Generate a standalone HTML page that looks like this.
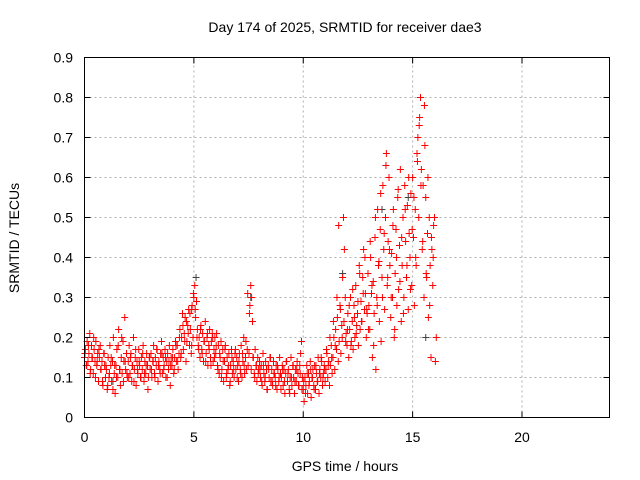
<!DOCTYPE html>
<html><head><meta charset="utf-8"><style>
body{margin:0;background:#fff}
svg{display:block;font-family:"Liberation Sans",sans-serif}
</style></head><body>
<svg id="chart" width="640" height="480" xmlns="http://www.w3.org/2000/svg">
<text x="345" y="32" font-size="14" text-anchor="middle">Day 174 of 2025, SRMTID for receiver dae3</text>
<text x="345" y="471" font-size="14" text-anchor="middle">GPS time / hours</text>
<text x="19" y="238" font-size="14" text-anchor="middle" transform="rotate(-90 19 238)">SRMTID / TECUs</text>
<g id="grid"></g>
<g id="ticks"></g>
<g id="marks-black"></g>
<g id="marks"></g>
<rect x="84.5" y="57.5" width="525" height="360" fill="none" stroke="#000" stroke-width="1"/>
</svg>
<script>
const xTicks=[0,5,10,15,20];
const yTicks=[0,0.1,0.2,0.3,0.4,0.5,0.6,0.7,0.8,0.9];
const yTickLabels=["0","0.1","0.2","0.3","0.4","0.5","0.6","0.7","0.8","0.9"];
const startHour=0, stepHour=0.04;
const srmtid=[
0.15,0.17,0.13,0.19,0.14,0.16,0.21,0.12,0.18,0.15,0.11,0.17,0.14,0.19,0.13,0.16,0.09,0.15,0.18,0.12,0.14,0.08,0.16,0.13,0.1,
0.12,0.07,0.15,0.1,0.18,0.13,0.09,0.14,0.2,0.11,0.06,0.13,0.17,0.1,0.22,0.12,0.08,0.15,0.11,0.19,0.14,0.25,0.12,0.16,0.1,
0.14,0.18,0.11,0.16,0.09,0.13,0.2,0.12,0.15,0.08,0.14,0.11,0.17,0.13,0.1,0.15,0.12,0.18,0.09,0.14,0.11,0.16,0.13,0.1,0.15,
0.12,0.16,0.1,0.14,0.18,0.11,0.15,0.13,0.17,0.09,0.14,0.12,0.16,0.19,0.11,0.15,0.13,0.17,0.1,0.14,0.16,0.12,0.18,0.08,0.15,
0.13,0.17,0.11,0.15,0.19,0.14,0.18,0.12,0.16,0.22,0.15,0.2,0.26,0.17,0.21,0.25,0.14,0.19,0.23,0.27,0.18,0.22,0.16,0.28,0.2,
0.3,0.33,0.25,0.29,0.22,0.18,0.2,0.15,0.23,0.17,0.21,0.14,0.19,0.24,0.16,0.2,0.13,0.18,0.22,0.15,0.19,0.21,0.14,0.17,0.2,
0.16,0.21,0.13,0.18,0.11,0.15,0.19,0.12,0.17,0.09,0.14,0.18,0.1,0.15,0.12,0.16,0.08,0.13,0.17,0.11,0.14,0.1,0.16,0.12,0.15,
0.13,0.09,0.16,0.12,0.18,0.1,0.14,0.2,0.11,0.15,0.12,0.17,0.13,0.16,0.28,0.33,0.3,0.24,0.15,0.11,0.17,0.13,0.09,0.15,0.12,
0.14,0.1,0.13,0.08,0.16,0.11,0.09,0.14,0.12,0.07,0.13,0.1,0.15,0.09,0.12,0.08,0.14,0.11,0.1,0.13,0.07,0.12,0.09,0.15,0.11,
0.1,0.13,0.08,0.12,0.06,0.11,0.14,0.09,0.12,0.07,0.1,0.15,0.08,0.13,0.1,0.06,0.12,0.09,0.14,0.11,0.08,0.13,0.16,0.19,0.1,
0.07,0.04,0.1,0.08,0.13,0.06,0.11,0.09,0.14,0.05,0.1,0.12,0.08,0.13,0.07,0.11,0.09,0.15,0.06,0.12,0.1,0.14,0.08,0.11,0.13,
0.09,0.12,0.16,0.1,0.14,0.08,0.13,0.18,0.11,0.15,0.2,0.12,0.22,0.17,0.25,0.14,0.19,0.28,0.16,0.23,0.35,0.5,0.42,0.3,0.21,
0.18,0.26,0.15,0.22,0.3,0.19,0.24,0.17,0.28,0.2,0.33,0.23,0.26,0.18,0.38,0.22,0.29,0.24,0.35,0.42,0.27,0.31,0.2,0.26,0.36,
0.28,0.22,0.4,0.31,0.15,0.34,0.26,0.45,0.12,0.3,0.52,0.38,0.24,0.47,0.19,0.35,0.58,0.42,0.27,0.5,0.66,0.33,0.44,0.6,0.38,
0.25,0.41,0.3,0.52,0.2,0.36,0.47,0.28,0.55,0.32,0.43,0.62,0.24,0.38,0.5,0.3,0.58,0.44,0.35,0.53,0.27,0.46,0.4,0.56,0.33,
0.6,0.45,0.28,0.52,0.38,0.66,0.7,0.5,0.75,0.8,0.62,0.42,0.58,0.3,0.68,0.55,0.35,0.46,0.25,0.5,0.38,0.15,0.42,0.33,0.48,
0.5,0.14,0.2
];
const start2=0.02, step2=0.08;
const srmtid2=[
0.16,0.13,0.18,0.11,0.15,0.2,0.1,0.14,0.17,0.12,0.09,0.16,0.13,0.08,0.11,0.15,0.07,0.13,0.1,0.18,0.12,0.2,0.09,0.14,0.11,
0.1,0.15,0.13,0.09,0.17,0.12,0.14,0.1,0.16,0.11,0.13,0.07,0.15,0.12,0.14,0.1,0.17,0.13,0.11,0.16,0.12,0.15,0.1,0.14,0.13,
0.15,0.12,0.18,0.14,0.2,0.16,0.23,0.19,0.24,0.21,0.26,0.18,0.31,0.27,0.2,0.17,0.22,0.16,0.19,0.14,0.21,0.17,0.13,0.2,0.15,
0.18,0.12,0.16,0.1,0.14,0.17,0.11,0.13,0.09,0.15,0.12,0.17,0.1,0.14,0.11,0.16,0.13,0.19,0.31,0.26,0.12,0.15,0.1,0.13,0.11,
0.12,0.09,0.13,0.1,0.07,0.12,0.15,0.09,0.11,0.08,0.13,0.1,0.07,0.12,0.09,0.14,0.11,0.06,0.1,0.13,0.09,0.12,0.08,0.11,0.07,
0.09,0.06,0.11,0.08,0.12,0.1,0.07,0.13,0.09,0.11,0.15,0.1,0.12,0.17,0.13,0.2,0.15,0.24,0.18,0.3,0.48,0.27,0.2,0.24,0.19,
0.22,0.28,0.18,0.32,0.25,0.21,0.29,0.36,0.24,0.31,0.4,0.27,0.22,0.44,0.33,0.18,0.5,0.28,0.39,0.56,0.3,0.46,0.63,0.35,0.42,
0.3,0.48,0.22,0.4,0.57,0.34,0.45,0.26,0.52,0.38,0.6,0.32,0.47,0.55,0.4,0.64,0.73,0.58,0.44,0.78,0.36,0.6,0.28,0.45,0.4
];
const blackTimes=[1.3,4.9,5.1,7.6,11.8,13.6,14.8,15.6];
const blackValues=[0.09,0.27,0.35,0.3,0.36,0.52,0.55,0.2];
const X0=84.5,X1=609.5,Y0=417.5,Y1=57.5;
const xMax=24,yMax=0.9;
const sx=v=>X0+v/xMax*(X1-X0);
const sy=v=>Y0-v/yMax*(Y0-Y1);
const NS="http://www.w3.org/2000/svg";
function mk(tag,attrs,parent){const e=document.createElementNS(NS,tag);for(const k in attrs)e.setAttribute(k,attrs[k]);parent.appendChild(e);return e;}
const grid=document.getElementById('grid'),ticks=document.getElementById('ticks');
xTicks.forEach(t=>{const x=sx(t);
 if(t>0){const g=mk('line',{x1:x,y1:Y0,x2:x,y2:Y1,stroke:'#b0b0b0','stroke-dasharray':'2,3'},grid);}
 const tk=mk('path',{d:`M${x},${Y0}v-6M${x},${Y1}v6`,stroke:'#000'},ticks);
 const tx=mk('text',{x:x,y:442,'font-size':'14','text-anchor':'middle'},ticks);tx.textContent=t;});
yTicks.forEach((t,i)=>{const y=sy(t);
 if(t>0&&t<yMax){const g=mk('line',{x1:X0,y1:y,x2:X1,y2:y,stroke:'#b0b0b0','stroke-dasharray':'2,3'},grid);}
 const tk=mk('path',{d:`M${X0},${y}h6M${X1},${y}h-6`,stroke:'#000'},ticks);
 const tx=mk('text',{x:73,y:y+5,'font-size':'14','text-anchor':'end'},ticks);tx.textContent=yTickLabels[i];});
function plus(x,y){return `M${x-3.5},${y}h7M${x},${y-3.5}v7`;}
let db='';blackTimes.forEach((t,i)=>{db+=plus(sx(t),sy(blackValues[i]));});
const pb=mk('path',{d:db,stroke:'#444',fill:'none','stroke-width':'1'},document.getElementById('marks-black'));


let d='';srmtid.forEach((v,i)=>{d+=plus(sx(startHour+i*stepHour),sy(v));});
srmtid2.forEach((v,i)=>{d+=plus(sx(start2+i*step2),sy(v));});
const pr=mk('path',{d:d,stroke:'#ff0000',fill:'none','stroke-width':'1'},document.getElementById('marks'));


</script>
</body></html>
